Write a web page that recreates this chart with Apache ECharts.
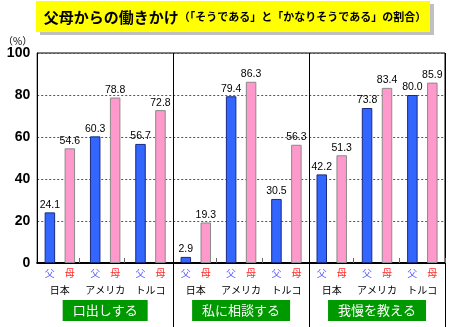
<!DOCTYPE html>
<html><head><meta charset="utf-8">
<script src="https://cdn.jsdelivr.net/npm/echarts@6/dist/echarts.min.js"></script>
<style>html,body{margin:0;padding:0;background:#fff}#c{width:450px;height:327px}</style>
</head><body><div id="c"></div>
<script>
const categories = ['日本','アメリカ','トルコ','日本','アメリカ','トルコ','日本','アメリカ','トルコ'];
const fatherValues = [24.1, 60.3, 56.7, 2.9, 79.4, 30.5, 42.2, 73.8, 80.0];
const motherValues = [54.6, 78.8, 72.8, 19.3, 86.3, 56.3, 51.3, 83.4, 85.9];
const groupNames = ['口出しする', '私に相談する', '我慢を教える'];
const seriesNames = ['父', '母'];
const titleMain = '父母からの働きかけ';
const titleSub = '（「そうである」と「かなりそうである」の割合）';
const yUnit = '（%）';

const CJK = '"Noto Sans CJK JP", sans-serif';
const NUM = '"Liberation Sans", Arial, sans-serif';
const chart = echarts.init(document.getElementById('c'));

const valueLabel = {
  show: true, position: 'top', distance: 2, color: '#000',
  fontSize: 10.5, fontFamily: NUM,
  formatter: p => p.value.toFixed(1)
};
const gridBox = { left: 33, right: 5, top: 53, bottom: 64 };

chart.setOption({
  backgroundColor: '#ffffff',
  animation: false,
  grid: [
    Object.assign({ show: true, borderColor: '#000', borderWidth: 1, backgroundColor: 'transparent' }, gridBox),
    Object.assign({ show: false }, gridBox)
  ],
  graphic: [
    { type: 'rect', shape: { x: 40, y: 4, width: 394, height: 31 }, style: { fill: '#c0c0c0' }, z: 1 },
    { type: 'rect', shape: { x: 36, y: 1, width: 394, height: 31 }, style: { fill: '#ffff00' }, z: 2 },
    { type: 'text', x: 235, y: 17, z: 3, style: {
        text: '{a|' + titleMain + '}{b|' + titleSub + '}',
        align: 'center', verticalAlign: 'middle',
        rich: {
          a: { fontSize: 15, fontWeight: 'bold', fontFamily: CJK, fill: '#000', color: '#000' },
          b: { fontSize: 11, fontWeight: 'bold', fontFamily: CJK, fill: '#000', color: '#000' }
        }
    } }
  ],
  xAxis: [
    {
      type: 'category', data: categories, gridIndex: 0,
      axisLine: { show: true, lineStyle: { color: '#000', width: 2 } },
      axisTick: { show: true, inside: false, length: 64, interval: i => i === 3 || i === 6, lineStyle: { color: '#000', width: 1 } },
      splitLine: { show: true, interval: i => i === 3 || i === 6, lineStyle: { color: '#000', width: 1, type: 'solid' } },
      axisLabel: {
        interval: 0, margin: 3, color: '#000',
        formatter: (v, i) => {
          let s = '{f|' + seriesNames[0] + '}{m|' + seriesNames[1] + '}\n{c|' + v + '}';
          if (i % 3 === 1) s += '\n{s| }\n{g|' + groupNames[(i - 1) / 3] + '}';
          return s;
        },
        rich: {
          f: { color: '#5a5aff', fontSize: 10, fontFamily: CJK, width: 20, align: 'center', lineHeight: 14 },
          m: { color: '#ff2a2a', fontSize: 10, fontFamily: CJK, width: 20, align: 'center', lineHeight: 14 },
          c: { color: '#000', fontSize: 10, fontFamily: CJK, lineHeight: 20 },
          s: { fontSize: 4, lineHeight: 4 },
          g: { color: '#fff', backgroundColor: '#009900', fontSize: 13, fontFamily: CJK, lineHeight: 13, padding: [4, 10, 4, 10] }
        }
      }
    },
    {
      type: 'category', data: categories, gridIndex: 1, position: 'bottom',
      axisLine: { show: false },
      axisTick: { show: true, inside: true, length: 5, interval: i => i % 3 !== 0, lineStyle: { color: '#666', width: 1 } },
      axisLabel: { show: false },
      splitLine: { show: false }
    }
  ],
  yAxis: [
    {
      type: 'value', min: 0, max: 100, interval: 20, gridIndex: 0,
      name: yUnit, nameLocation: 'end', nameGap: 7,
      nameTextStyle: { fontSize: 10, fontFamily: CJK, color: '#000', align: 'right', padding: [0, 5, 0, 0] },
      axisLine: { show: true, lineStyle: { color: '#000', width: 1 } },
      axisTick: { show: false },
      axisLabel: { color: '#000', fontSize: 14, fontWeight: 'bold', fontFamily: NUM, margin: 7 },
      splitLine: { show: true, lineStyle: { color: '#555', type: [2, 2], width: 1 } }
    },
    {
      type: 'value', min: 0, max: 100, interval: 20, gridIndex: 1,
      axisLine: { show: false }, axisTick: { show: false }, axisLabel: { show: false }, splitLine: { show: false }
    }
  ],
  series: [
    { name: seriesNames[0], type: 'bar', data: fatherValues, barWidth: 10.5, barGap: '90%',
      itemStyle: { color: '#3366ff', borderColor: '#1a2a80', borderWidth: 1 }, label: valueLabel },
    { name: seriesNames[1], type: 'bar', data: motherValues, barWidth: 10.5,
      itemStyle: { color: '#ff99cc', borderColor: '#8a8a8a', borderWidth: 1 }, label: valueLabel }
  ]
});
</script></body></html>
